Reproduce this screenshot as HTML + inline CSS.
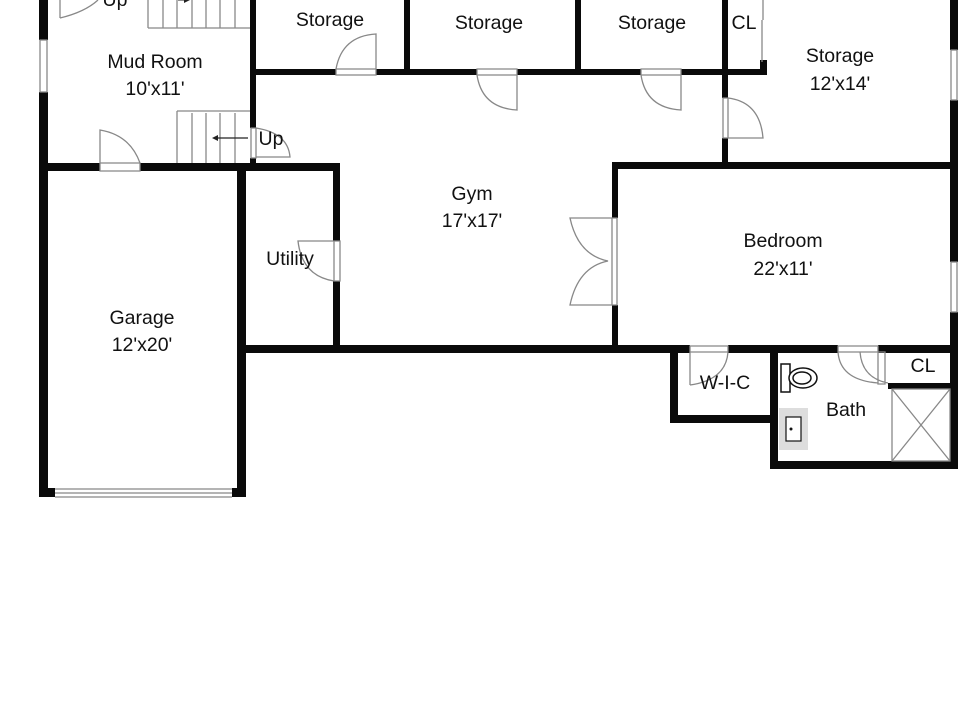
<!DOCTYPE html>
<html><head><meta charset="utf-8"><style>
html,body{margin:0;padding:0;background:#fff;width:960px;height:720px;overflow:hidden}
text{font-family:"Liberation Sans","DejaVu Sans",sans-serif;font-size:19.5px;fill:#111;text-anchor:middle}
</style></head><body>
<svg width="960" height="720" viewBox="0 0 960 720" xmlns="http://www.w3.org/2000/svg">
<g fill="#0a0a0a">
<rect x="39" y="0" width="9" height="40"/>
<rect x="39" y="92" width="9" height="405"/>
<rect x="39" y="488" width="16" height="9"/>
<rect x="232" y="488" width="13" height="9"/>
<rect x="44" y="163" width="56" height="8"/>
<rect x="140" y="163" width="200" height="8"/>
<rect x="250" y="0" width="6" height="128"/>
<rect x="250" y="158" width="6" height="10"/>
<rect x="237" y="163" width="9" height="334"/>
<rect x="333" y="163" width="7" height="78"/>
<rect x="333" y="281" width="7" height="72"/>
<rect x="245" y="345" width="440" height="8"/>
<rect x="253" y="69" width="83" height="6"/>
<rect x="376" y="69" width="101" height="6"/>
<rect x="517" y="69" width="124" height="6"/>
<rect x="681" y="69" width="86" height="6"/>
<rect x="760" y="60" width="7" height="15"/>
<rect x="404" y="0" width="6" height="75"/>
<rect x="575" y="0" width="6" height="75"/>
<rect x="722" y="0" width="6" height="98"/>
<rect x="722" y="138" width="6" height="30"/>
<rect x="612" y="162" width="345" height="7"/>
<rect x="950" y="0" width="8" height="50"/>
<rect x="950" y="100" width="8" height="162"/>
<rect x="950" y="312" width="8" height="45"/>
<rect x="612" y="162" width="6" height="56"/>
<rect x="612" y="305" width="6" height="48"/>
<rect x="670" y="345" width="20" height="8"/>
<rect x="728" y="345" width="110" height="8"/>
<rect x="878" y="345" width="80" height="8"/>
<rect x="670" y="345" width="8" height="78"/>
<rect x="670" y="415" width="108" height="8"/>
<rect x="770" y="345" width="8" height="124"/>
<rect x="770" y="461" width="188" height="8"/>
<rect x="950" y="345" width="8" height="124"/>
<rect x="888" y="383" width="70" height="6"/>
</g>
<g fill="none" stroke="#888" stroke-width="1.3">
<line x1="55" y1="489" x2="232" y2="489"/><line x1="55" y1="493" x2="232" y2="493"/><line x1="55" y1="497" x2="232" y2="497"/>
<rect x="40" y="40" width="7" height="52"/>
<rect x="951" y="50" width="6" height="50"/>
<rect x="951" y="262" width="6" height="50"/>
<path d="M60 18 L60 0 M60 18 Q85 12 98 0"/>
<path d="M148 28 L250 28 M148 0 L148 28 M163 0 V28 M177 0 V28 M192 0 V28 M206 0 V28 M220 0 V28 M235 0 V28"/>
<path d="M177 111 L250 111 M177 111 V163 M192 113 V163 M206 113 V163 M220 113 V163 M235 113 V163"/>
<path d="M251 128 h5 v30 h-5z M256 157 H290 Q288 133 256 128"/>
<path d="M100 163 h40 v8 h-40z M100 163 V130 Q130 135 140 163"/>
<path d="M336 69 h40 v6 h-40z M376 69 V34 Q342 36 336 69"/>
<path d="M477 69 h40 v6 h-40z M517 75 V110 Q482 108 477 75"/>
<path d="M641 69 h40 v6 h-40z M681 75 V110 Q646 108 641 75"/>
<path d="M723 98 h5 v40 h-5z M728 138 H763 Q760 102 728 98"/>
<path d="M763 0 V20 M762 20 V62"/>
<path d="M334 241 h6 v40 h-6z M334 241 H298 Q302 276 334 281"/>
<path d="M612 218 h5 v87 h-5z M612 218 H570 Q578 255 608 261 Q578 267 570 305 H612"/>
<path d="M690 346 h38 v6 h-38z M690 352 V385 M728 352 Q726 380 690 385"/>
<path d="M838 346 h40 v6 h-40z M838 352 Q840 380 878 383"/>
<path d="M878 352 v32 h7 v-32z M860 352 Q862 378 888 383"/>
<rect x="892" y="389" width="58" height="72"/>
<path d="M892 389 L950 461 M950 389 L892 461"/>
</g>
<path d="M216 138 H248" stroke="#222" stroke-width="1.2"/>
<path d="M212 138 L218 135 L218 141 Z" fill="#222"/>
<path d="M178 0 H187" stroke="#222"/>
<path d="M190 0 L184 -3 L184 3 Z" fill="#222"/>
<g stroke="#111" stroke-width="1.5" fill="#fff">
<rect x="781" y="364" width="9" height="28"/>
<ellipse cx="803" cy="378" rx="14" ry="10"/>
<ellipse cx="802" cy="378" rx="9" ry="6"/>
</g>
<rect x="779" y="408" width="29" height="42" fill="#ddd"/>
<rect x="786" y="417" width="15" height="24" fill="#fff" stroke="#111" stroke-width="1.2"/>
<circle cx="791" cy="429" r="1.5" fill="#111"/>
<text x="115" y="6" font-size="16">Up</text>
<text x="155" y="68">Mud Room</text>
<text x="155" y="95">10'x11'</text>
<text x="271" y="145" font-size="16">Up</text>
<text x="330" y="26">Storage</text>
<text x="489" y="29">Storage</text>
<text x="652" y="29">Storage</text>
<text x="744" y="29">CL</text>
<text x="840" y="62">Storage</text>
<text x="840" y="90">12'x14'</text>
<text x="472" y="200">Gym</text>
<text x="472" y="227">17'x17'</text>
<text x="783" y="247">Bedroom</text>
<text x="783" y="275">22'x11'</text>
<text x="290" y="265">Utility</text>
<text x="142" y="324">Garage</text>
<text x="142" y="351">12'x20'</text>
<text x="725" y="389">W-I-C</text>
<text x="846" y="416">Bath</text>
<text x="923" y="372">CL</text>
</svg>
</body></html>
